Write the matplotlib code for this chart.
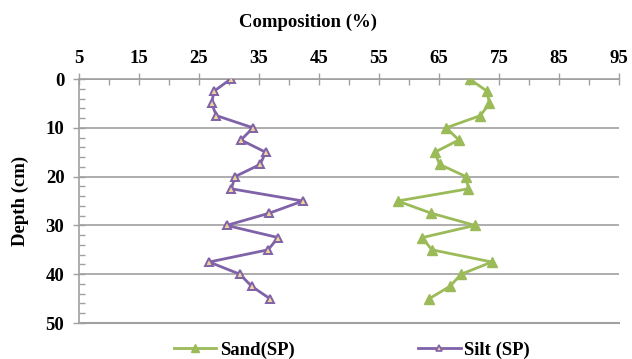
import matplotlib
matplotlib.use("Agg")
import matplotlib.pyplot as plt
from matplotlib.ticker import MultipleLocator
from matplotlib.lines import Line2D

depth = [0, 2.5, 5, 7.5, 10, 12.5, 15, 17.5, 20, 22.5, 25, 27.5, 30,
         32.5, 35, 37.5, 40, 42.5, 45]
sand = [70.1, 73.0, 73.4, 71.9, 66.2, 68.3, 64.3, 65.1, 69.5, 69.9, 58.1,
        63.7, 71.0, 62.2, 63.8, 73.8, 68.7, 66.8, 63.4]
silt = [30.3, 27.5, 27.1, 27.9, 34.0, 32.0, 36.1, 35.2, 31.0, 30.4, 42.3,
        36.7, 29.6, 38.2, 36.5, 26.7, 31.8, 33.8, 36.8]
x_ticks = [5, 15, 25, 35, 45, 55, 65, 75, 85, 95]
y_ticks = [0, 10, 20, 30, 40, 50]

plt.rcParams['font.family'] = ['Liberation Serif', 'DejaVu Serif']
plt.rcParams['font.weight'] = 'bold'

green = '#9BBB59'
purple = '#7F62A8'
tan = '#F0D29A'
grey = '#A0A0A0'

fig = plt.figure(figsize=(6.32, 3.59), dpi=100)
ax = fig.add_axes([79 / 632, 1 - 323 / 359, 540 / 632, 244 / 359])

ax.plot(sand, depth, color=green, lw=2.0, marker='^', ms=7.5,
        mfc=green, mec=green, label='Sand(SP)', zorder=3)
ax.plot(silt, depth, color=purple, lw=2.0, marker='^', ms=6,
        mfc=tan, mec=purple, mew=1.4, label='Silt (SP)', zorder=3)

ax.set_xlim(5, 95)
ax.set_ylim(50, 0)
ax.set_xticks(x_ticks)
ax.set_yticks(y_ticks)
ax.xaxis.set_minor_locator(MultipleLocator(5))
ax.yaxis.set_minor_locator(MultipleLocator(2))

ax.xaxis.tick_top()
ax.tick_params(axis='x', which='major', direction='inout', length=9,
               width=1, color=grey, labelsize=13.5, pad=4)
ax.tick_params(axis='x', which='minor', direction='in', length=4,
               width=1, color=grey)
ax.tick_params(axis='y', which='major', direction='inout', length=9,
               width=1, color=grey, labelsize=13.5, pad=6)
ax.tick_params(axis='y', which='minor', direction='in', length=4,
               width=1, color=grey)
for lbl in ax.get_xticklabels() + ax.get_yticklabels():
    lbl.set_fontweight('bold')

ax.grid(axis='y', which='major', color=grey, lw=1.2)
for side in ['right', 'bottom']:
    ax.spines[side].set_visible(False)
for side in ['top', 'left']:
    ax.spines[side].set_color(grey)
    ax.spines[side].set_linewidth(1.2)
ax.axhline(50, color=grey, lw=1.5, clip_on=False)

fig.text(308 / 632, 1 - 22 / 359, 'Composition (%)', ha='center',
         va='center', fontsize=13.5, fontweight='bold')
fig.text(20 / 632, 1 - 201 / 359, 'Depth (cm)', ha='center', va='center',
         rotation=90, fontsize=13.5, fontweight='bold')

handles = [Line2D([], [], color=green, lw=2.0, marker='^', ms=6,
                  mfc=green, mec=green),
           Line2D([], [], color=purple, lw=2.0, marker='^', ms=5,
                  mfc=tan, mec=purple, mew=1.2)]
fig.legend(handles, ['Sand(SP)', 'Silt (SP)'], loc='center',
           bbox_to_anchor=(352 / 632, 1 - 350 / 359), ncol=2, frameon=False,
           prop={'weight': 'bold', 'size': 13.5}, handlelength=2.25,
           handletextpad=0.2, columnspacing=6.6, borderaxespad=0)

fig.savefig('out.png', dpi=100)
